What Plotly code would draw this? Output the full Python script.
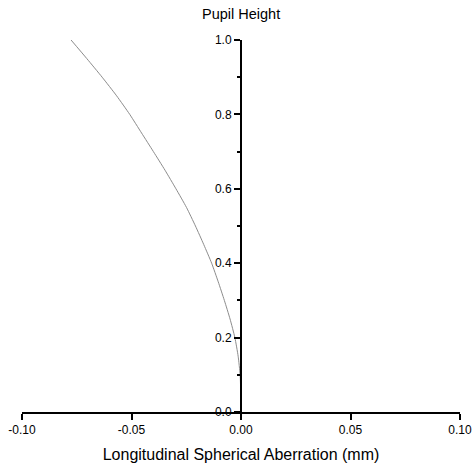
import plotly.graph_objects as go

pupil_height = [0, 0.05, 0.1, 0.15, 0.2, 0.25, 0.3, 0.35, 0.4, 0.45, 0.5,
                0.55, 0.6, 0.65, 0.7, 0.75, 0.8, 0.85, 0.9, 0.95, 1.0]
aberration_mm = [0, -0.0001, -0.0004, -0.0013, -0.0028, -0.0050, -0.0076, -0.0104,
                 -0.0134, -0.0170, -0.0208, -0.0249, -0.0297, -0.0347, -0.0400,
                 -0.0454, -0.0508, -0.0568, -0.0634, -0.0704, -0.0776]
x_ticks = [-0.10, -0.05, 0.00, 0.05, 0.10]
x_tick_labels = ["-0.10", "-0.05", "0.00", "0.05", "0.10"]
y_ticks = [0.0, 0.2, 0.4, 0.6, 0.8, 1.0]
y_tick_labels = ["0.0", "0.2", "0.4", "0.6", "0.8", "1.0"]

fig = go.Figure()
fig.add_trace(go.Scatter(x=aberration_mm, y=pupil_height, mode="lines",
                         line=dict(color="#8c8c8c", width=1, shape="spline", smoothing=0.6),
                         showlegend=False))

font = dict(family="Liberation Sans, Arial, sans-serif", color="black")
fig.update_layout(
    width=475, height=471,
    margin=dict(l=22, r=15, t=40, b=59),
    paper_bgcolor="white", plot_bgcolor="white",
    font=dict(size=12, **font),
    xaxis=dict(range=[-0.1, 0.1], tickvals=x_ticks, ticktext=x_tick_labels, automargin=False,
               showgrid=False, zeroline=False, showline=True, linecolor="black",
               linewidth=2, ticks="outside", ticklen=6, tickwidth=1.5, tickcolor="black",
               title=dict(text="Longitudinal Spherical Aberration (mm)",
                          font=dict(size=16, **font), standoff=12),
               tickfont=dict(size=12, **font)),
    yaxis=dict(range=[0, 1.0], tickvals=y_ticks, ticktext=y_tick_labels, automargin=False,
               anchor="free", position=0.5, showgrid=False, zeroline=False,
               showline=True, linecolor="black", linewidth=2,
               ticks="outside", ticklen=6, tickwidth=1.5, tickcolor="black",
               minor=dict(dtick=0.1, ticks="outside", ticklen=3, tickcolor="black"),
               tickfont=dict(size=12, **font)),
    annotations=[dict(text="Pupil Height", x=0.5, xref="paper", y=1, yref="paper",
                      yshift=16, showarrow=False, font=dict(size=14.5, **font),
                      yanchor="bottom")],
)
fig.write_html("out.html")
